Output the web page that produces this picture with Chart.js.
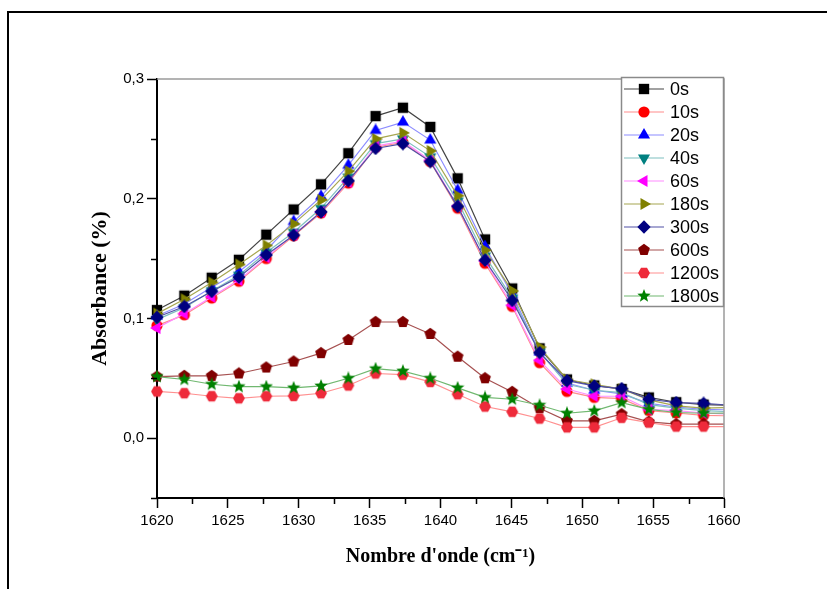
<!DOCTYPE html>
<html>
<head>
<meta charset="utf-8">
<script src="https://cdn.jsdelivr.net/npm/chart.js@4.4.1/dist/chart.umd.min.js"></script>
<style>
  html, body { margin: 0; padding: 0; background: #fff; }
  #wrap { position: relative; width: 827px; height: 589px; }
</style>
</head>
<body>
<div id="wrap"><canvas id="graph" width="827" height="589"></canvas></div>
<script>
// nombres d'onde (cm-1), le dernier point est juste après 1660 (caché)
const nombresOnde = [1620, 1621.93, 1623.86, 1625.78, 1627.71, 1629.64, 1631.57, 1633.5, 1635.42, 1637.35, 1639.28,
  1641.21, 1643.14, 1645.06, 1646.99, 1648.92, 1650.85, 1652.78, 1654.7, 1656.63, 1658.56, 1660.49];

const temps = ['0s', '10s', '20s', '40s', '60s', '180s', '300s', '600s', '1200s', '1800s'];

const abs0s    = [0.107, 0.119, 0.134, 0.149, 0.170, 0.191, 0.212, 0.238, 0.269, 0.276, 0.260, 0.217, 0.166, 0.125, 0.075, 0.049, 0.044, 0.041, 0.034, 0.030, 0.028, 0.0275];
const abs10s   = [0.094, 0.103, 0.117, 0.131, 0.150, 0.169, 0.188, 0.213, 0.243, 0.247, 0.231, 0.192, 0.146, 0.110, 0.063, 0.039, 0.034, 0.033, 0.023, 0.021, 0.019, 0.0186];
const abs20s   = [0.102, 0.112, 0.126, 0.139, 0.157, 0.181, 0.202, 0.228, 0.257, 0.264, 0.249, 0.207, 0.160, 0.120, 0.072, 0.046, 0.040, 0.037, 0.029, 0.026, 0.024, 0.0236];
const abs40s   = [0.099, 0.109, 0.123, 0.136, 0.155, 0.172, 0.192, 0.218, 0.246, 0.250, 0.235, 0.198, 0.152, 0.117, 0.072, 0.045, 0.040, 0.038, 0.028, 0.025, 0.023, 0.022];
const abs60s   = [0.092, 0.104, 0.118, 0.132, 0.151, 0.170, 0.189, 0.214, 0.244, 0.248, 0.232, 0.194, 0.148, 0.111, 0.065, 0.041, 0.035, 0.035, 0.024, 0.023, 0.021, 0.020];
const abs180s  = [0.104, 0.116, 0.130, 0.145, 0.161, 0.179, 0.199, 0.223, 0.250, 0.255, 0.240, 0.2025, 0.157, 0.123, 0.076, 0.049, 0.045, 0.041, 0.032, 0.027, 0.025, 0.0256];
const abs300s  = [0.101, 0.110, 0.1225, 0.1345, 0.153, 0.1695, 0.189, 0.215, 0.242, 0.246, 0.231, 0.1936, 0.1486, 0.115, 0.0714, 0.048, 0.0436, 0.0414, 0.0325, 0.0297, 0.029, 0.0275];
const abs600s  = [0.0514, 0.052, 0.052, 0.054, 0.059, 0.064, 0.071, 0.082, 0.097, 0.097, 0.087, 0.068, 0.050, 0.0386, 0.025, 0.0144, 0.0144, 0.020, 0.0136, 0.0117, 0.0117, 0.0117];
const abs1200s = [0.039, 0.0375, 0.035, 0.0333, 0.035, 0.0353, 0.0375, 0.044, 0.054, 0.053, 0.047, 0.0367, 0.0264, 0.022, 0.0164, 0.009, 0.009, 0.017, 0.013, 0.0097, 0.0097, 0.0097];
const abs1800s = [0.0514, 0.049, 0.045, 0.043, 0.043, 0.042, 0.0436, 0.050, 0.058, 0.056, 0.050, 0.042, 0.034, 0.0325, 0.0275, 0.0208, 0.0228, 0.0297, 0.024, 0.0214, 0.0208, 0.021];

const series = [abs0s, abs10s, abs20s, abs40s, abs60s, abs180s, abs300s, abs600s, abs1200s, abs1800s];

// style Origin : forme, couleur du symbole, couleur de la ligne
const formes = ['square', 'circle', 'up', 'down', 'left', 'right', 'diamond', 'pentagon', 'hexagon', 'star'];
const couleurs = ['#000000', '#ff0000', '#0000ff', '#008080', '#ff00ff', '#808000', '#000080', '#800000', '#ee2a3a', '#008000'];
const couleursLigne = ['#444444', '#ff8c8c', '#8c8cff', '#7fbfbf', '#ff8cff', '#a6a650', '#5050a6', '#a65050', '#ff9090', '#70b870'];

// dessine un symbole dans un petit canvas (utilisé comme pointStyle)
function symbole(forme, couleur, taille) {
  const c = document.createElement('canvas');
  c.width = taille; c.height = taille;
  const g = c.getContext('2d');
  const r = taille / 2;
  g.translate(r, r);
  g.fillStyle = couleur;
  g.beginPath();
  const poly = (n, depart, rayon) => {
    for (let i = 0; i < n; i++) {
      const a = (depart + i * 360 / n) * Math.PI / 180;
      if (i === 0) g.moveTo(rayon * Math.cos(a), rayon * Math.sin(a));
      else g.lineTo(rayon * Math.cos(a), rayon * Math.sin(a));
    }
    g.closePath();
  };
  if (forme === 'square') g.rect(-r * 0.74, -r * 0.74, r * 1.48, r * 1.48);
  else if (forme === 'circle') g.arc(0, 0, r * 0.8, 0, Math.PI * 2);
  else if (forme === 'up') poly(3, -90, r);
  else if (forme === 'down') poly(3, 90, r);
  else if (forme === 'left') poly(3, 180, r);
  else if (forme === 'right') poly(3, 0, r);
  else if (forme === 'diamond') poly(4, -90, r * 0.95);
  else if (forme === 'pentagon') poly(5, -90, r * 0.88);
  else if (forme === 'hexagon') poly(6, 0, r * 0.85);
  else if (forme === 'star') {
    for (let i = 0; i < 10; i++) {
      const a = (-90 + i * 36) * Math.PI / 180;
      const rr = i % 2 === 0 ? r : r * 0.42;
      if (i === 0) g.moveTo(rr * Math.cos(a), rr * Math.sin(a));
      else g.lineTo(rr * Math.cos(a), rr * Math.sin(a));
    }
    g.closePath();
  }
  g.fill();
  return c;
}

const datasets = series.map((valeurs, i) => ({
  label: temps[i],
  data: valeurs.map((v, j) => ({ x: nombresOnde[j], y: v })),
  borderColor: couleursLigne[i],
  borderWidth: 1.2,
  pointStyle: symbole(formes[i], couleurs[i], 14),
  pointRadius: 3,
  pointHoverRadius: 3,
  pointBorderWidth: 0,
  tension: 0,
  clip: { left: 8, top: 8, right: 0, bottom: 0 },
  order: 20 - i
}));

const estMajeur = (v, pas) => Math.abs(v / pas - Math.round(v / pas)) < 1e-6;

// petites graduations + cadre gris + cadre extérieur
const decor = {
  id: 'decor',
  afterDraw(chart) {
    const ctx = chart.ctx;
    const a = chart.chartArea;
    const sx = chart.scales.x, sy = chart.scales.y;
    ctx.save();
    // cadre du graphe (haut et droite, gris)
    ctx.strokeStyle = '#9a9a9a';
    ctx.lineWidth = 1.5;
    ctx.beginPath();
    ctx.moveTo(a.left, a.top); ctx.lineTo(a.right, a.top); ctx.lineTo(a.right, a.bottom);
    ctx.stroke();
    // graduations mineures
    ctx.strokeStyle = '#000';
    ctx.lineWidth = 1.5;
    ctx.beginPath();
    sx.ticks.forEach(t => {
      if (!estMajeur(t.value, 5)) {
        const px = Math.round(sx.getPixelForValue(t.value)) + 0.5;
        ctx.moveTo(px, a.bottom); ctx.lineTo(px, a.bottom + 6);
      }
    });
    sy.ticks.forEach(t => {
      if (!estMajeur(t.value, 0.1)) {
        const py = Math.round(sy.getPixelForValue(t.value)) + 0.5;
        ctx.moveTo(a.left, py); ctx.lineTo(a.left - 6, py);
      }
    });
    ctx.stroke();
    // cadre extérieur (haut et gauche)
    ctx.strokeStyle = '#000';
    ctx.lineWidth = 2;
    ctx.beginPath();
    ctx.moveTo(8, 589); ctx.lineTo(8, 12); ctx.lineTo(827, 12);
    ctx.stroke();
    ctx.restore();
  }
};

// légende dans le coin haut droit, style Origin
const legende = {
  id: 'legende',
  afterDraw(chart) {
    const ctx = chart.ctx;
    const x0 = 621, y0 = 77, w = 102, h = 229;
    ctx.save();
    ctx.fillStyle = '#fff';
    ctx.fillRect(x0, y0, w, h);
    ctx.strokeStyle = '#8a8a8a';
    ctx.lineWidth = 1.5;
    ctx.strokeRect(x0 + 0.5, y0 + 0.5, w, h);
    ctx.font = '18px "Liberation Sans", Arial, sans-serif';
    ctx.textBaseline = 'middle';
    ctx.fillStyle = '#000';
    temps.forEach((t, i) => {
      const y = y0 + 12 + i * 23;
      ctx.strokeStyle = couleursLigne[i];
      ctx.lineWidth = 1.2;
      ctx.beginPath();
      ctx.moveTo(x0 + 3, y); ctx.lineTo(x0 + 43, y);
      ctx.stroke();
      const img = symbole(formes[i], couleurs[i], 14);
      ctx.drawImage(img, x0 + 23 - 7, y - 7);
      ctx.fillText(t, x0 + 49, y + 1);
    });
    ctx.restore();
  }
};

new Chart(document.getElementById('graph'), {
  type: 'line',
  data: { datasets: datasets },
  options: {
    responsive: false,
    animation: false,
    events: [],
    layout: { padding: { top: 79, right: 103, left: 0, bottom: 0 } },
    plugins: { legend: { display: false }, tooltip: { enabled: false } },
    scales: {
      x: {
        type: 'linear',
        min: 1620,
        max: 1660,
        border: { color: '#000', width: 2 },
        grid: {
          drawOnChartArea: false,
          tickLength: 10,
          tickWidth: 1.5,
          tickColor: c => estMajeur(c.tick.value, 5) ? '#000' : 'rgba(0,0,0,0)'
        },
        ticks: {
          stepSize: 2.5,
          autoSkip: false,
          maxRotation: 0,
          padding: 4,
          color: '#000',
          font: { family: '"Liberation Sans", Arial, sans-serif', size: 15 },
          callback: v => estMajeur(v, 5) ? String(Math.round(v)) : ''
        },
        title: {
          display: true,
          text: "Nombre d'onde (cm\u207B\u00B9)",
          color: '#000',
          font: { family: '"Liberation Serif", "Times New Roman", serif', size: 20, weight: 'bold' },
          padding: { top: 0, bottom: 20 }
        },
        afterFit: s => { s.height = 91; }
      },
      y: {
        min: -0.05,
        max: 0.3,
        border: { color: '#000', width: 2 },
        grid: {
          drawOnChartArea: false,
          tickLength: 10,
          tickWidth: 1.5,
          tickColor: c => estMajeur(c.tick.value, 0.1) ? '#000' : 'rgba(0,0,0,0)'
        },
        ticks: {
          stepSize: 0.05,
          autoSkip: false,
          padding: 3,
          color: '#000',
          font: { family: '"Liberation Sans", Arial, sans-serif', size: 15 },
          callback: v => estMajeur(v, 0.1) ? Math.abs(Math.round(v * 10) / 10).toFixed(1).replace('.', ',') : ''
        },
        title: {
          display: true,
          text: 'Absorbance (%)',
          color: '#000',
          font: { family: '"Liberation Serif", "Times New Roman", serif', size: 22, weight: 'bold' },
          padding: { top: 87, bottom: 0 }
        },
        afterFit: s => { s.width = 157; }
      }
    }
  },
  plugins: [decor, legende]
});
</script>
</body>
</html>
